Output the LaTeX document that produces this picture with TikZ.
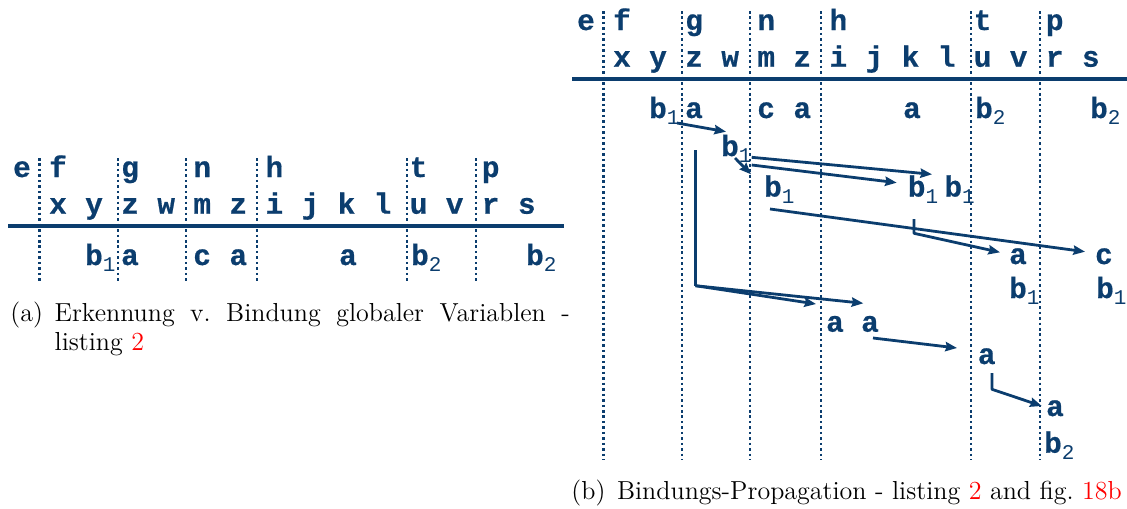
\documentclass[tikz,border=0pt]{standalone}
\usepackage{fontspec}
\newfontfamily\codefont{Liberation Mono}[BoldFeatures={FakeBold=0.6}]
\usetikzlibrary{arrows.meta,calc}
\definecolor{ink}{HTML}{0B3D6E}
\newcommand\lsub[1]{\rlap{\raisebox{-3pt}{\mdseries\fontsize{9}{9}\selectfont #1}}}
\newcommand\panelhead[1]{%
  \foreach \lx in {603.7,682,750,821,971,1040} \draw[sep] (\lx,11) -- (\lx,#1);
  \draw[rule] (572,79) -- (1128,79);
  \node[lt] (e) at (586,30) {e};
  \foreach \tt/\kk in {f/0,g/2,n/4,h/6,t/10,p/12} \node[lt] (top\tt) at ({622+36.06*\kk},30) {\tt};
  \foreach \tt [count=\kk from 0] in {x,y,z,w,m,z,i,j,k,l,u,v,r,s} \node[lt] (var\kk) at ({622+36.06*\kk},66.7) {\tt};
  \node[lt] (b1) at (658,118) {b\lsub1};
  \node[lt] (a1) at (694,118) {a};
  \node[lt] (c2) at (766.2,118) {c};
  \node[lt] (a2) at (802.3,118) {a};
  \node[lt] (a3) at (912,118) {a};
  \node[lt] (b4) at (984,118) {b\lsub2};
  \node[lt] (b5) at (1099,118) {b\lsub2};
}
\begin{document}
\begin{tikzpicture}[x=0.43pt,y=-0.43pt,
  lt/.style={font=\codefont\bfseries\fontsize{12.6}{13}\selectfont, text=ink, inner sep=0pt, anchor=base},
  sep/.style={draw=ink, line width=1.15pt, dash pattern=on 1.1pt off 1.25pt},
  rule/.style={draw=ink, line width=1.35pt},
  seg/.style={draw=ink, line width=1.2pt, line join=round},
  arr/.style={seg, -{Stealth[length=5pt,width=4pt,inset=0.6pt]}},
  captext/.style={font=\fontsize{11.2}{12.6}\selectfont, inner sep=0pt, anchor=base west}]
\path[fill=white] (0,0) rectangle (1127,508);
\useasboundingbox (0,0) rectangle (1127,508);
% left panel
\begin{scope}[shift={(-564,147)}, name prefix=L-]
  \panelhead{136}
\end{scope}
% right panel
\begin{scope}[name prefix=R-]
  \panelhead{460}
\end{scope}
% propagation nodes
\node[lt] (B2) at (730,156) {b\lsub1};
\node[lt] (B3) at (773,196.5) {b\lsub1};
\node[lt] (B4) at (916.7,196.5) {b\lsub1};
\node[lt] (B5) at (953.3,196.5) {b\lsub1};
\node[lt] (A1) at (1018,264) {a};
\node[lt] (A1b) at (1018,298) {b\lsub1};
\node[lt] (C1) at (1104,264) {c};
\node[lt] (C1b) at (1105,298) {b\lsub1};
\node[lt] (AA1) at (835,331.7) {a};
\node[lt] (AA2) at (870,331.7) {a};
\node[lt] (A3) at (986.7,364) {a};
\node[lt] (A4) at (1055,416) {a};
\node[lt] (A4b) at (1053,452.7) {b\lsub2};
% connectors
\draw[arr] ([shift={(19,5)}]R-b1.base) -- ([shift={(-4,-24.3)}]B2.base);
\draw[arr] ([shift={(5,2)}]B2.base) -- ([shift={(-22,-22.2)}]B3.base);
\draw[arr] ([shift={(21.7,1.3)}]B2.base) -- ([shift={(-21.3,-22.2)}]B5.base);
\draw[arr] ([shift={(21.7,9)}]B2.base) -- ([shift={(-20,-13.8)}]B4.base);
\draw[arr] ([shift={(-3,12.5)}]B3.base) -- ([shift={(-19,-12.3)}]C1.base);
\draw[arr] ([shift={(-2.7,22.5)}]B4.base) -- ++(0,14.3) -- ([shift={(-18,-11.7)}]A1.base);
\draw[seg] ([shift={(1.4,32)}]R-a1.base) -- ++(0,135.7) coordinate (K);
\draw[arr] (K) -- ([shift={(-19,-27.7)}]AA1.base);
\draw[arr] (K) -- ([shift={(-6.7,-28.4)}]AA2.base);
\draw[arr] ([shift={(3,6.3)}]AA2.base) -- ([shift={(-29.7,-16)}]A3.base);
\draw[arr] ([shift={(5.3,9)}]A3.base) -- ++(0,16.3) -- ([shift={(-13.3,-10)}]A4.base);
% captions
\node[captext] (capA) at (10,321) {\begin{tabular}[t]{@{}l@{\hspace{5pt}}l@{}}(a)&\makebox[221.5pt][s]{Erkennung v.\ Bindung globaler Variablen -}\\&listing \textcolor{red}{2}\end{tabular}};
\node[captext] (capB) at (571,499) {(b)\hspace{5pt}Bindungs-Propagation - listing \textcolor{red}{2} and fig.\ \textcolor{red}{18b}};
\end{tikzpicture}
\end{document}
